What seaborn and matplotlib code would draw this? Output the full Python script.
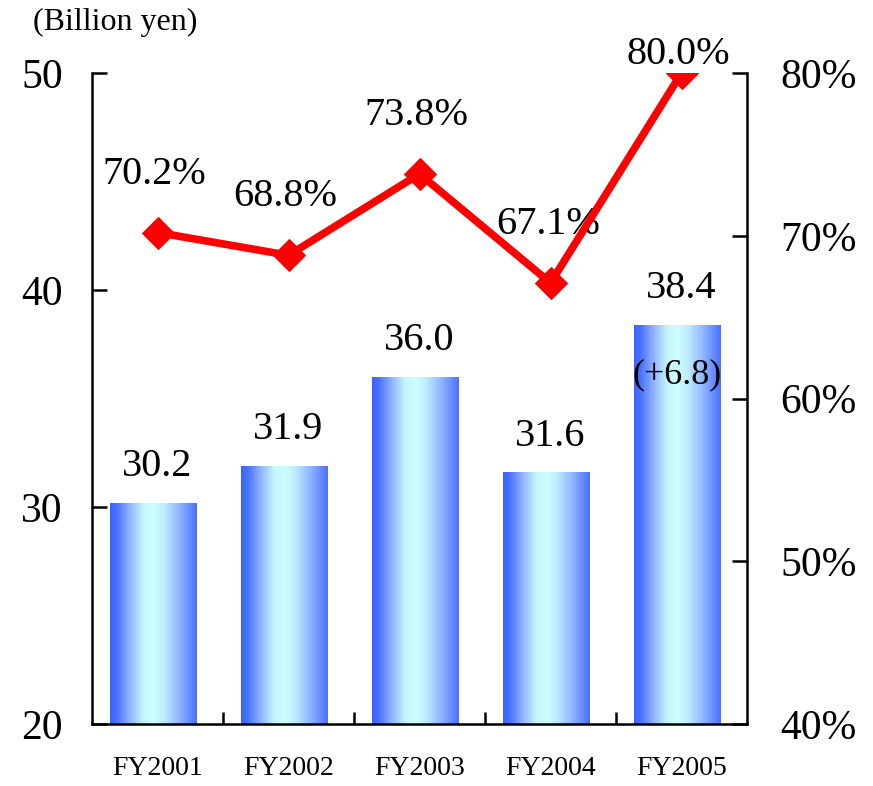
import numpy as np
import pandas as pd
import matplotlib
matplotlib.use("Agg")
import matplotlib.pyplot as plt
from matplotlib.colors import LinearSegmentedColormap
import seaborn as sns

# Data
years = ["FY2001", "FY2002", "FY2003", "FY2004", "FY2005"]
sales = [30.2, 31.9, 36.0, 31.6, 38.4]            # billion yen
ratio = [70.2, 68.8, 73.8, 67.1, 80.0]            # percent
sales_labels = ["30.2", "31.9", "36.0", "31.6", "38.4"]
ratio_labels = ["70.2%", "68.8%", "73.8%", "67.1%", "80.0%"]
growth_note = "(+6.8)"
left_ticks = [20, 30, 40, 50]
right_ticks = [40, 50, 60, 70, 80]

sns.set_theme(style="white")
plt.rcParams["font.family"] = ["Liberation Serif", "DejaVu Serif"]
plt.rcParams["axes.linewidth"] = 1.8
for key in ("text.color", "xtick.color", "ytick.color", "axes.labelcolor",
            "axes.edgecolor"):
    plt.rcParams[key] = "black"

fig, ax = plt.subplots(figsize=(8.73, 7.86), dpi=100)
fig.subplots_adjust(left=0.1054, right=0.8557, bottom=0.0789, top=0.9071)

y_min, y_max = 20, 50

df = pd.DataFrame({"year": years, "sales": sales})
sns.barplot(data=df, x="year", y="sales", ax=ax, width=0.664,
            color="#3b66ff", saturation=1, zorder=2)

# Horizontal blue -> light cyan -> blue gradient fill for every bar
grad_cmap = LinearSegmentedColormap.from_list(
    "bar_grad",
    [(0.00, "#3a62ff"), (0.08, "#4a74ff"), (0.22, "#8fb0ff"),
     (0.38, "#c6f4ff"), (0.50, "#ccffff"), (0.62, "#c0ecff"),
     (0.80, "#90b4ff"), (1.00, "#4a70ff")])
grad = np.linspace(0, 1, 256).reshape(1, -1)
shift = -0.03
for patch in ax.patches:
    patch.set_x(patch.get_x() + shift)
    x0, y0 = patch.get_x(), patch.get_y()
    w, h = patch.get_width(), patch.get_height()
    patch.set_facecolor("none")
    patch.set_edgecolor("none")
    bottom = max(y0, y_min)
    im = ax.imshow(grad, cmap=grad_cmap, aspect="auto",
                   extent=(x0, x0 + w, bottom, y0 + h), zorder=2,
                   interpolation="bilinear")
    im.set_clip_path(patch)

ax.set_xlim(-0.5, len(years) - 0.5)
ax.set_ylim(y_min, y_max)
ax.set_yticks(left_ticks)
ax.set_xlabel("")
ax.set_ylabel("")

# Bar value labels
for i, (v, lab) in enumerate(zip(sales, sales_labels)):
    ax.annotate(lab, xy=(i, v), xytext=(0, 19), textcoords="offset points",
                ha="center", va="baseline", fontsize=29, zorder=5)
ax.annotate(growth_note, xy=(len(sales) - 1, sales[-1]), xytext=(-3, -42),
            textcoords="offset points", ha="center", va="baseline",
            fontsize=26, zorder=5)

# Ratio line on the secondary axis
ax2 = ax.twinx()
sns.lineplot(x=np.arange(len(ratio)), y=ratio, ax=ax2, color="#ff0000",
             linewidth=5.5, marker="D", markersize=16,
             markeredgecolor="#ff0000", markerfacecolor="#ff0000", zorder=4)
ax2.set_ylim(40, 80)
ax2.set_yticks(right_ticks)
ax2.set_yticklabels([f"{t}%" for t in right_ticks])
ax2.set_ylabel("")

label_offsets = [42, 42, 42, 42, 13]
for i, (r, lab) in enumerate(zip(ratio, ratio_labels)):
    ax.annotate(lab, xy=(i, r), xycoords=ax2.transData,
                xytext=(-2, label_offsets[i]), textcoords="offset points",
                ha="center", va="center", fontsize=29, zorder=5,
                annotation_clip=False)

# Axis styling
for a in (ax, ax2):
    a.spines["top"].set_visible(False)
    for s in a.spines.values():
        s.set_linewidth(1.8)
        s.set_color("black")
ax.spines["right"].set_visible(False)
ax2.spines["left"].set_visible(False)
ax2.spines["bottom"].set_visible(False)

ax.tick_params(axis="y", direction="in", length=11, width=1.8,
               labelsize=30, pad=21, left=True)
ax2.tick_params(axis="y", direction="in", length=11, width=1.8,
                labelsize=30, pad=24, right=True)
ax.set_xticks(np.arange(len(years)))
ax.set_xticklabels(years)
ax.set_xticks(np.arange(len(years) - 1) + 0.5, minor=True)
ax.tick_params(axis="x", which="major", length=0, labelsize=20, pad=23)
ax.tick_params(axis="x", which="minor", direction="in", length=9,
               width=1.8, bottom=True)

fig.text(33 / 873, 1 - 8 / 786, "(Billion yen)", fontsize=23,
         ha="left", va="top")

fig.savefig("out.png", dpi=100)
